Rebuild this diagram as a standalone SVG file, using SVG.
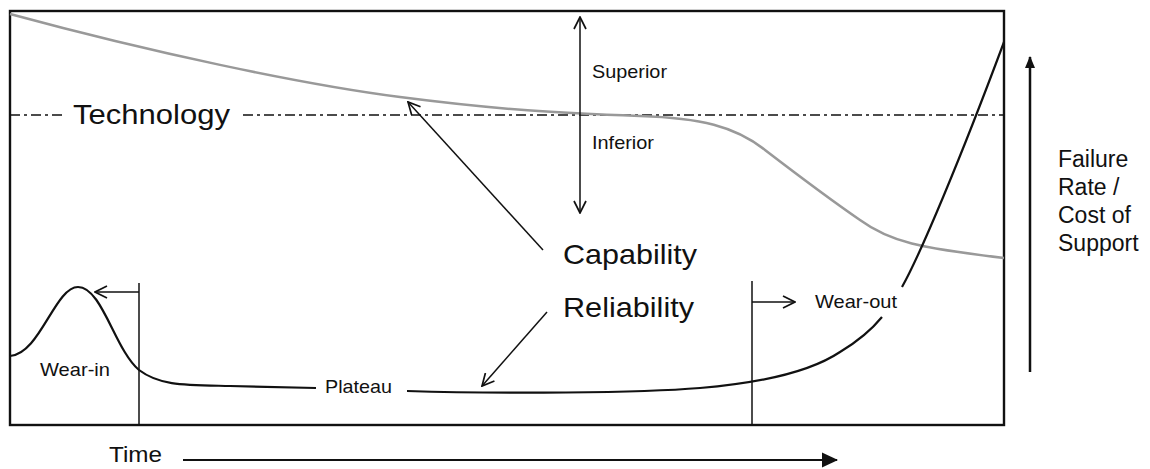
<svg xmlns="http://www.w3.org/2000/svg" width="1150" height="469" viewBox="0 0 1150 469">
  <style>
    .lbl { font-family: "Liberation Sans", Arial, sans-serif; fill: #111; }
    .big { font-size: 28px; }
    .med { font-size: 22px; }
    .side { font-size: 23px; }
    .sm { font-size: 19px; }
    .thin { fill: none; stroke: #111; stroke-width: 1.5; }
    .curve { fill: none; stroke: #111; stroke-width: 2.2; }
    .gray { fill: none; stroke: #999; stroke-width: 2.5; }
    .dashdot { fill: none; stroke: #111; stroke-width: 1.3; stroke-dasharray: 10 4 3 4; }
  </style>
  <defs>
    <marker id="open" viewBox="0 0 14 14" refX="13" refY="7" markerWidth="14" markerHeight="14" markerUnits="userSpaceOnUse" orient="auto-start-reverse">
      <path d="M1,1 L13,7 L1,13" fill="none" stroke="#111" stroke-width="1.7"/>
    </marker>
    <marker id="solid" viewBox="0 0 16 16" refX="15" refY="8" markerWidth="16" markerHeight="16" markerUnits="userSpaceOnUse" orient="auto">
      <path d="M0,0.5 L16,8 L0,15.5 Z" fill="#111"/>
    </marker>
    <marker id="solidS" viewBox="0 0 12 12" refX="11" refY="6" markerWidth="12" markerHeight="12" markerUnits="userSpaceOnUse" orient="auto">
      <path d="M0,1 L12,6 L0,11 Z" fill="#111"/>
    </marker>
  </defs>

  <rect width="1150" height="469" fill="#fff"/>

  <g id="frame">
    <rect x="10" y="11" width="994" height="414" fill="none" stroke="#111" stroke-width="2.4"/>
  </g>

  <g id="technology-line">
    <path class="dashdot" d="M10,115 L65,115 M243,115 L1004,115"/>
  </g>

  <g id="capability-curve">
    <path class="gray" d="M10,14 C150,52 300,84 400,97 S560,113 640,116 C700,118 735,126 765,150 C795,173 825,196 860,220 C890,242 920,248 1004,258"/>
  </g>

  <g id="reliability-curve">
    <path class="curve" d="M10,356 C40,354 55,287 78,287 C102,287 115,350 139,370 C160,386 185,385 230,386 L316,388"/>
    <path class="curve" d="M407,391 C500,394 640,393 700,388 C760,383 810,372 840,352 C860,340 873,328 882,317"/>
    <path class="curve" d="M902,287 C920,255 960,160 1004,42"/>
  </g>

  <g id="phase-lines">
    <line class="thin" x1="139" y1="283" x2="139" y2="425"/>
    <line class="thin" x1="752" y1="281" x2="752" y2="425"/>
  </g>

  <g id="connectors">
    <line class="thin" x1="580" y1="17" x2="580" y2="213" marker-start="url(#open)" marker-end="url(#open)"/>
    <line class="thin" x1="543" y1="250" x2="408" y2="102" marker-end="url(#open)"/>
    <line class="thin" x1="547" y1="312" x2="482" y2="386" marker-end="url(#open)"/>
    <line class="thin" x1="139" y1="292" x2="95" y2="292" marker-end="url(#open)"/>
    <line class="thin" x1="752" y1="302" x2="795" y2="302" marker-end="url(#open)"/>
    <line x1="183" y1="460" x2="837" y2="460" stroke="#111" stroke-width="1.8" marker-end="url(#solid)"/>
    <line x1="1030" y1="372" x2="1030" y2="57" stroke="#111" stroke-width="2.5" marker-end="url(#solidS)"/>
  </g>

  <g id="label-technology"><text class="lbl big" x="73" y="124" textLength="157" lengthAdjust="spacingAndGlyphs">Technology</text></g>
  <g id="label-superior"><text class="lbl sm" x="592" y="78" textLength="75" lengthAdjust="spacingAndGlyphs">Superior</text></g>
  <g id="label-inferior"><text class="lbl sm" x="592" y="149" textLength="62" lengthAdjust="spacingAndGlyphs">Inferior</text></g>
  <g id="label-capability"><text class="lbl big" x="563" y="264" textLength="134" lengthAdjust="spacingAndGlyphs">Capability</text></g>
  <g id="label-reliability"><text class="lbl big" x="563" y="317" textLength="131" lengthAdjust="spacingAndGlyphs">Reliability</text></g>
  <g id="label-wear-in"><text class="lbl sm" x="40" y="376" textLength="70" lengthAdjust="spacingAndGlyphs">Wear-in</text></g>
  <g id="label-plateau"><text class="lbl sm" x="325" y="393" textLength="67" lengthAdjust="spacingAndGlyphs">Plateau</text></g>
  <g id="label-wear-out"><text class="lbl sm" x="815" y="308" textLength="82" lengthAdjust="spacingAndGlyphs">Wear-out</text></g>
  <g id="label-time"><text class="lbl med" x="109" y="462" textLength="53" lengthAdjust="spacingAndGlyphs">Time</text></g>
  <g id="label-failure-rate">
    <text class="lbl side" x="1058" y="167">Failure</text>
    <text class="lbl side" x="1058" y="195">Rate /</text>
    <text class="lbl side" x="1058" y="223">Cost of</text>
    <text class="lbl side" x="1058" y="251">Support</text>
  </g>
</svg>
